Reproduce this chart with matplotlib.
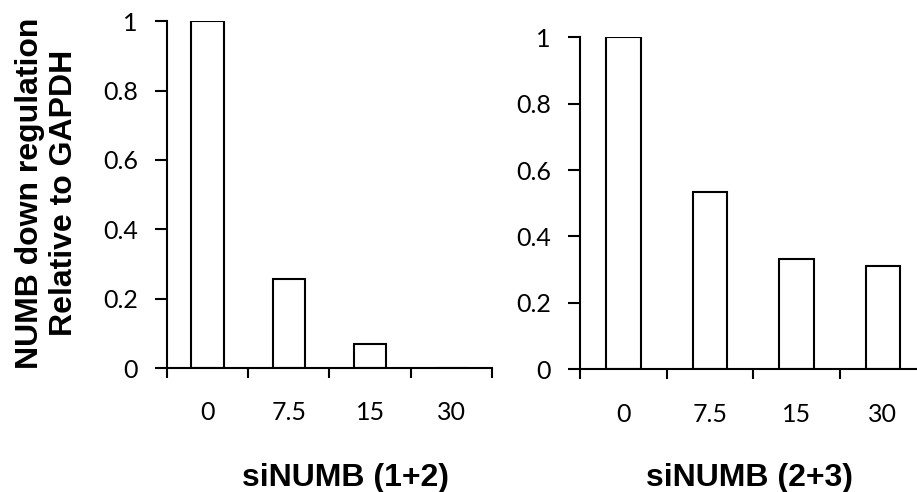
import matplotlib.pyplot as plt
import numpy as np

# siRNA doses (categories) and relative NUMB levels
doses = ['0', '7.5', '15', '30']
numb_12 = [1.0, 0.257, 0.07, 0.0]
numb_23 = [1.0, 0.534, 0.332, 0.311]
y_ticks = [0, 0.2, 0.4, 0.6, 0.8, 1]
y_tick_labels = ['0', '0.2', '0.4', '0.6', '0.8', '1']

fig = plt.figure(figsize=(9.17, 4.92), dpi=100)
ax1 = fig.add_axes([0.1821, 0.252, 0.3544, 0.705])
ax2 = fig.add_axes([0.6325, 0.2494, 0.3775, 0.675])

tick_font = 'Lato'
label_font = 'Liberation Sans'

for ax, vals in [(ax1, numb_12), (ax2, numb_23)]:
    x = np.arange(len(doses))
    ax.bar(x, vals, width=0.4, color='white', edgecolor='black', linewidth=1.5)
    ax.set_xlim(-0.5, len(doses) - 0.5)
    ax.set_ylim(0, 1)
    for side in ['top', 'right']:
        ax.spines[side].set_visible(False)
    for side in ['left', 'bottom']:
        ax.spines[side].set_linewidth(1.5)
    # boundary ticks (major), labels at bar centres (minor)
    ax.set_xticks(np.arange(len(doses) + 1) - 0.5)
    ax.set_xticklabels([])
    ax.set_xticks(x, minor=True)
    ax.set_xticklabels(doses, minor=True, fontsize=18, family=tick_font)
    ax.tick_params(axis='x', which='major', direction='out', length=7, width=1.5)
    ax.tick_params(axis='x', which='minor', length=0, pad=24)
    ax.set_yticks(y_ticks)
    ax.set_yticklabels(y_tick_labels, fontsize=18, family=tick_font)
    ax.tick_params(axis='y', direction='out', length=9, width=1.5, pad=12)

fig.text(345 / 917, 1 - 478 / 492, 'siNUMB (1+2)', fontsize=23, fontweight='bold',
         family=label_font, ha='center', va='center')
fig.text(750 / 917, 1 - 478 / 492, 'siNUMB (2+3)', fontsize=23, fontweight='bold',
         family=label_font, ha='center', va='center')
fig.text(47 / 917, 1 - 193 / 492, 'NUMB down regulation\nRelative to GAPDH', fontsize=23,
         fontweight='bold', family=label_font, ha='center', va='center',
         rotation=90, linespacing=1.15)

fig.savefig('out.png', dpi=100)
